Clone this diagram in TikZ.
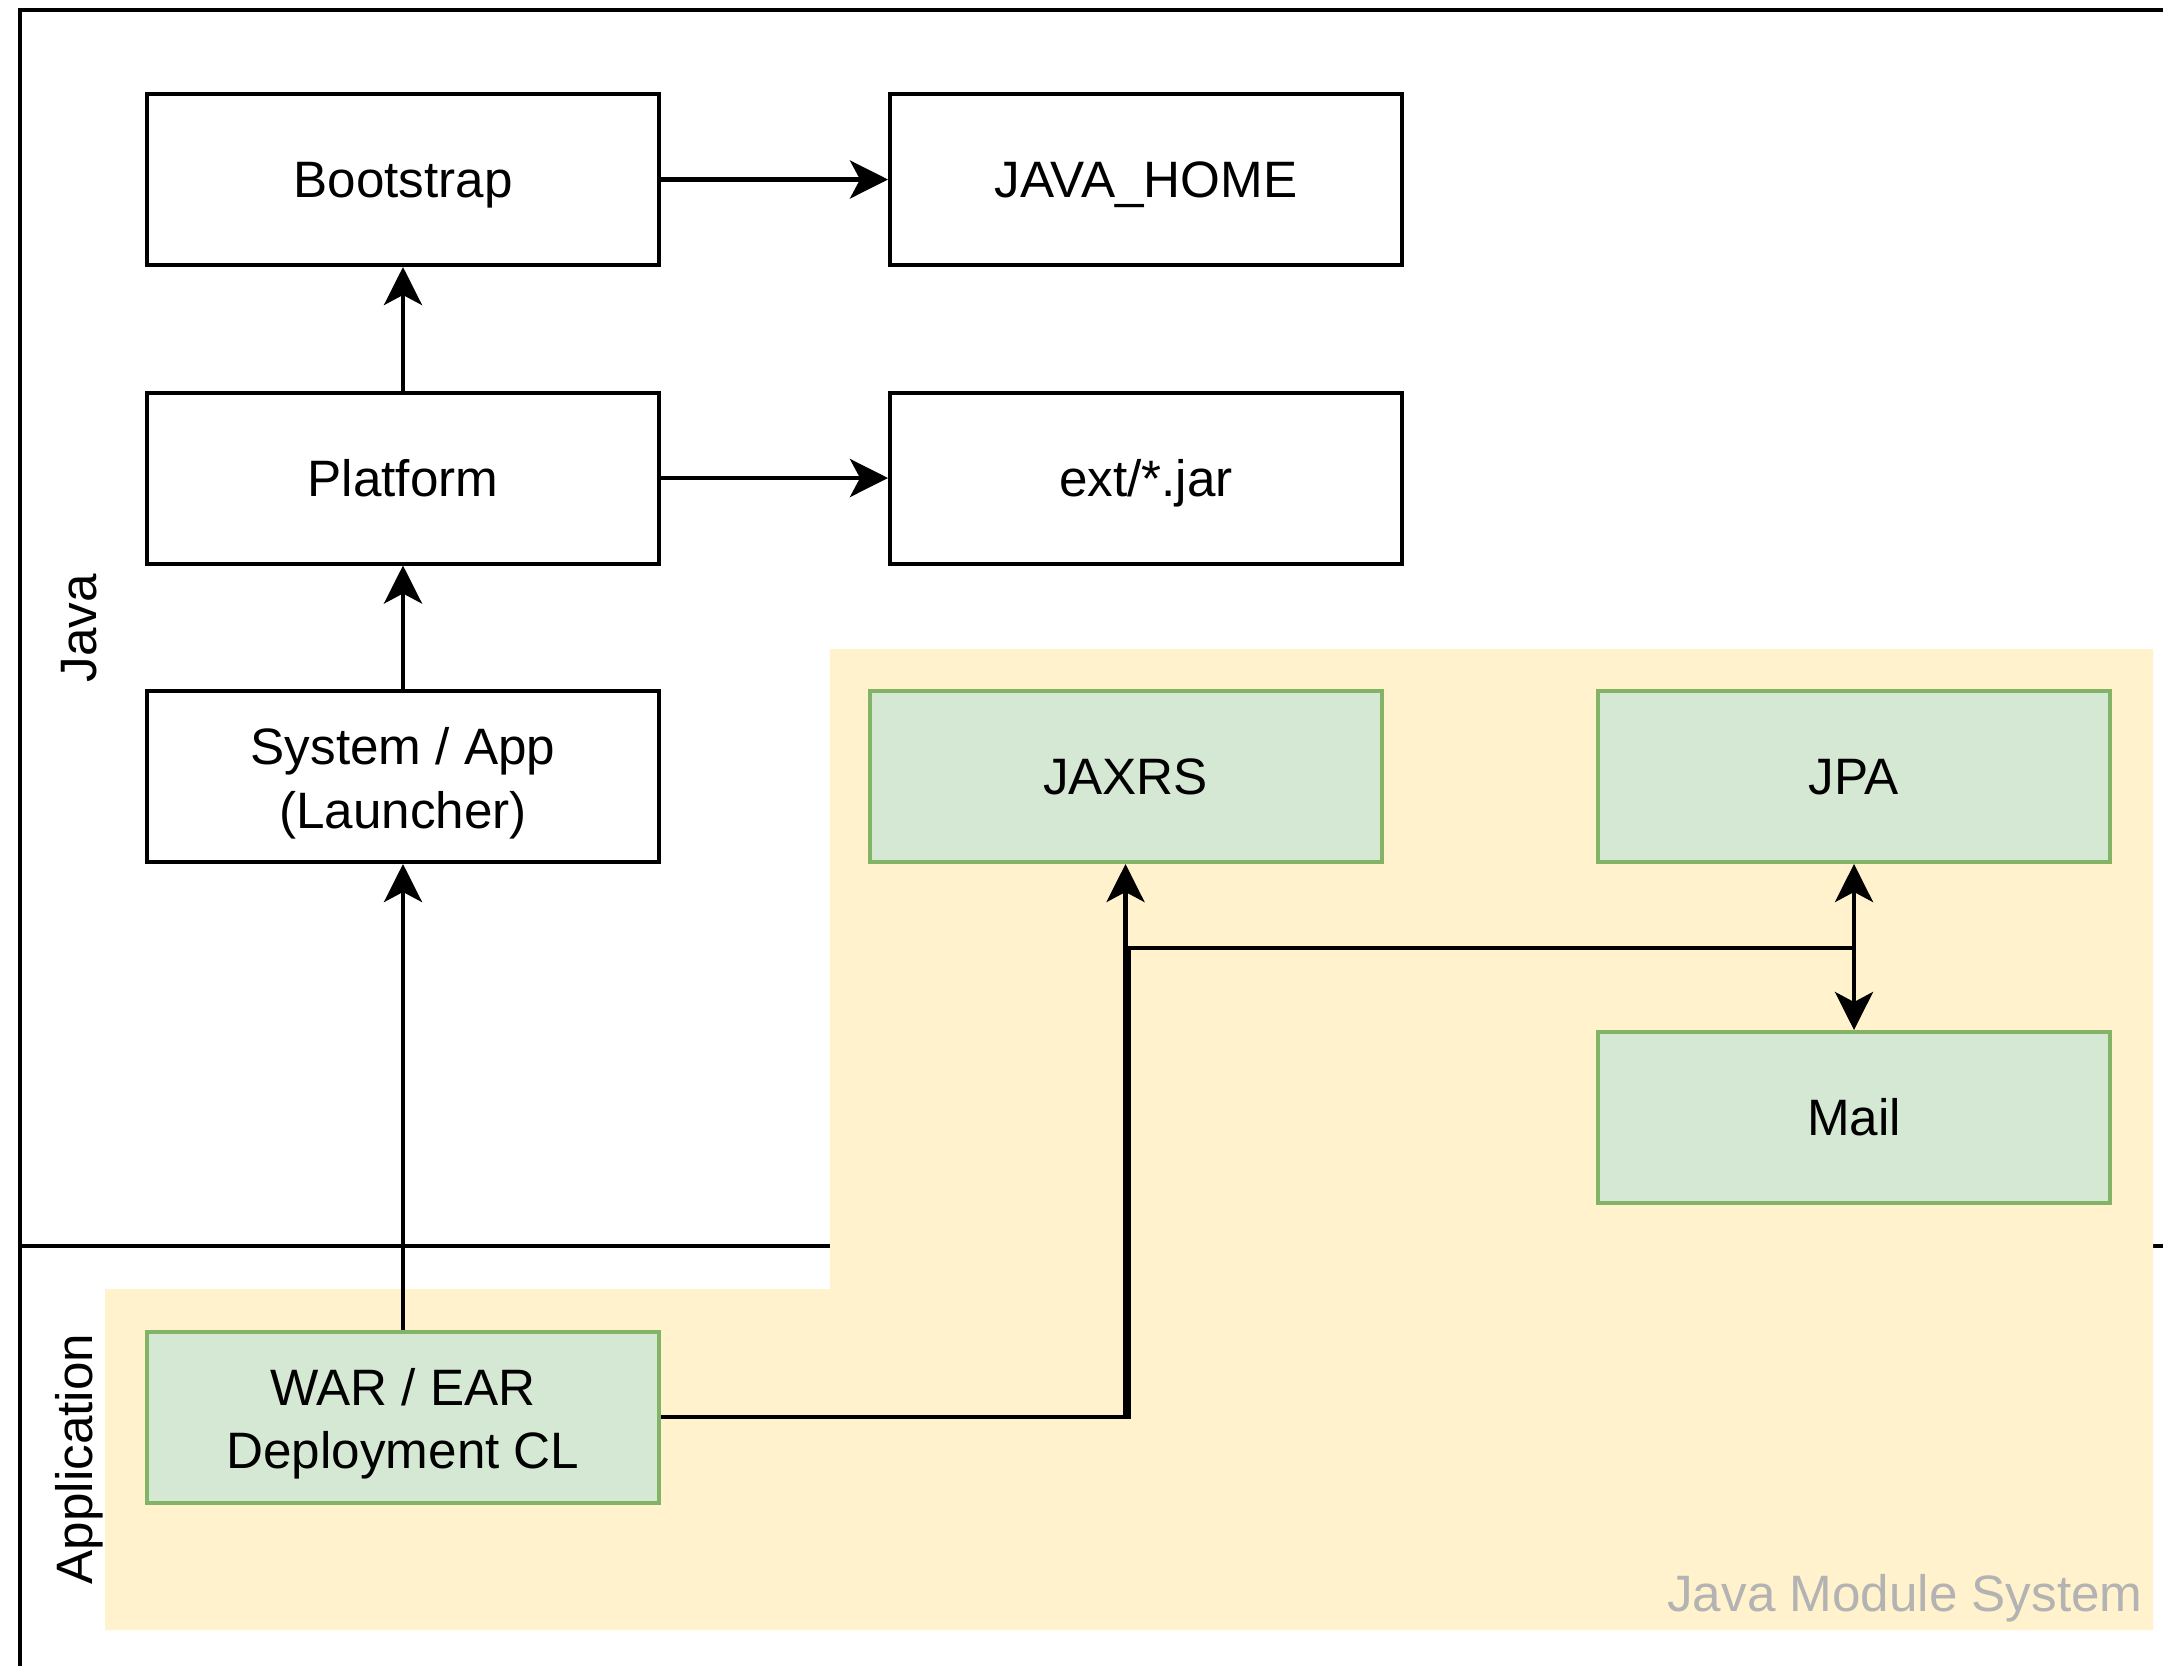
\documentclass[tikz,border=0pt]{standalone}
\usepackage{fontspec}
\setmainfont{Liberation Sans}
\usetikzlibrary{arrows.meta}
\definecolor{modfill}{HTML}{FFF2CC}
\definecolor{gfill}{HTML}{D5E8D4}
\definecolor{gline}{HTML}{82B366}
\definecolor{modtext}{HTML}{B3B3B3}
\newcommand{\twolines}[2]{\begin{tabular}[b]{@{}c@{}}#1\\#2\end{tabular}}
\begin{document}
\begin{tikzpicture}[x=0.5pt,y=-0.5pt,
  box/.style={draw=black, line width=2pt, minimum width=256pt, minimum height=85.5pt,
    inner sep=0pt, text height=18pt, text depth=0pt,
    font=\fontsize{25.6}{31.75}\selectfont},
  twoline/.style={text height=51.5pt, text depth=0pt},
  gbox/.style={box, draw=gline, fill=gfill},
  conn/.style={line width=2.2pt, -{Stealth[length=19pt,width=19pt,inset=5pt]}},
  plainconn/.style={line width=2.2pt},
  frameline/.style={line width=2pt},
  lanelabel/.style={rotate=90, font=\fontsize{25.6}{31.75}\selectfont, inner sep=0pt}]
\useasboundingbox (0,0) rectangle (2163,1666);
% pool frame and lane divider
\draw[frameline] (2163,9.5) -- (20,9.5) -- (20,1666);
\draw[frameline] (20,1246) -- (2163,1246);
% Java Module System area
\fill[modfill] (830,649) -- (2153,649) -- (2153,1630) -- (105,1630) -- (105,1289) -- (830,1289) -- cycle;
\node[anchor=base east, font=\fontsize{25.6}{31.75}\selectfont, text=modtext, inner sep=0pt] (jms) at (2143,1611) {Java Module System};
% lane labels
\node[lanelabel] (ljava) at (79,628) {Java};
\node[lanelabel] (lapp) at (79,1459) {Application};
% boxes
\node[box] (boot) at (403,179.5) {Bootstrap};
\node[box] (jh) at (1146,179.5) {JAVA\_HOME};
\node[box] (plat) at (403,478) {Platform};
\node[box] (ext) at (1146,478) {ext/*.jar};
\node[box, twoline] (sys) at (403,776.5) {\twolines{System / App}{(Launcher)}};
\node[gbox] (jaxrs) at (1125.5,776.5) {JAXRS};
\node[gbox] (jpa) at (1854,776.5) {JPA};
\node[gbox] (mail) at (1854,1117.5) {Mail};
\node[gbox, twoline] (war) at (403,1417) {\twolines{WAR / EAR}{Deployment CL}};
% connectors
\draw[conn] (boot.east) -- (jh.west);
\draw[conn] (plat.east) -- (ext.west);
\draw[conn] (plat.north) -- (boot.south);
\draw[conn] (sys.north) -- (plat.south);
\draw[conn] (war.north) -- (sys.south);
\draw[conn] (war.east) -| (jaxrs.south);
\coordinate (jn) at (1128.5,948);
\coordinate (pn) at (1854,948);
\draw[plainconn] (war.east) -| (jn) -- (pn);
\draw[conn] (pn) -- (jpa.south);
\draw[conn] (pn) -- (mail.north);
\end{tikzpicture}
\end{document}
